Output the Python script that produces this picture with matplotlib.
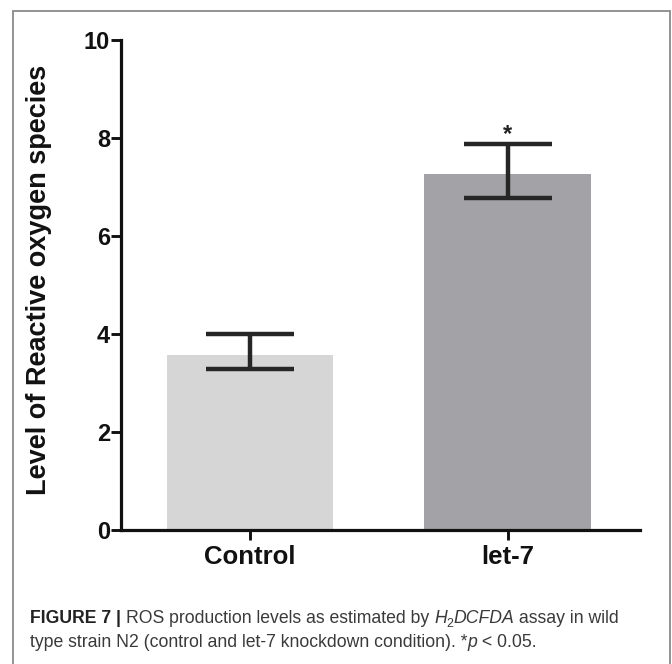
import numpy as np
import matplotlib
matplotlib.use("Agg")
import matplotlib.pyplot as plt
from matplotlib.patches import Rectangle

# --- dados ---
groups = ["Control", "let-7"]
ros_level = [3.58, 7.27]
err_low = [3.29, 6.77]
err_high = [4.0, 7.88]
bar_colors = ["#d6d6d6", "#a3a2a6"]
y_ticks = [0, 2, 4, 6, 8, 10]

W, H = 672, 664
fig = plt.figure(figsize=(W / 100, H / 100), dpi=100)
plt.rcParams["font.family"] = ["Liberation Sans", "DejaVu Sans"]

# moldura da figura
fig.patches.append(Rectangle((13 / W, -0.02), (670 - 13) / W, 1 - 11 / H + 0.02,
                             transform=fig.transFigure, fill=False,
                             edgecolor="#8a8a8a", linewidth=1.3))

ax = fig.add_axes([121 / W, 1 - 530 / H, (640 - 121) / W, (530 - 40) / H])
x = np.arange(len(groups))
ax.bar(x, ros_level, width=0.647, color=bar_colors, edgecolor="none", zorder=1)

yerr = np.array([[v - lo for v, lo in zip(ros_level, err_low)],
                 [hi - v for v, hi in zip(ros_level, err_high)]])
ax.errorbar(x, ros_level, yerr=yerr, fmt="none", ecolor="#262626",
            elinewidth=3.2, capsize=32, capthick=3.2, zorder=3)
for line in ax.lines:
    line.set_solid_capstyle("round")

# asterisco de significância
ax.text(x[1], err_high[1] - 0.05, "*", ha="center", va="bottom",
        fontsize=17, fontweight="bold", color="#222222")

ax.set_xlim(-0.5, 1.512)
ax.set_ylim(0, 10)
ax.set_yticks(y_ticks)
ax.set_xticks(x)
ax.set_xticklabels(groups)
for s in ["top", "right"]:
    ax.spines[s].set_visible(False)
for s in ["left", "bottom"]:
    ax.spines[s].set_linewidth(2.3)
    ax.spines[s].set_color("#111111")
ax.tick_params(axis="both", length=7, width=2.1, color="#111111")
ax.tick_params(axis="y", pad=1, labelsize=17)
ax.tick_params(axis="x", pad=4, labelsize=18.5)
for lbl in ax.get_xticklabels() + ax.get_yticklabels():
    lbl.set_fontweight("bold")
    lbl.set_color("#111111")

ax.set_ylabel("Level of Reactive oxygen species", fontsize=19.5,
              fontweight="bold", color="#111111")
ax.yaxis.set_label_coords(-0.133, 0.51)

# --- legenda da figura (texto em partes) ---
fig.canvas.draw()
renderer = fig.canvas.get_renderer()


def draw_runs(x0, y0, runs, size):
    xp = x0
    for txt, kw in runs:
        props = dict(fontsize=size, color="#3a3a3a", va="baseline", ha="left")
        props.update(kw)
        dy = 0
        if props.pop("sub", False):
            props["fontsize"] = size * 0.7
            dy = -4
        t = fig.text(xp / W, 1 - (y0 - dy) / H, txt, **props)
        bb = t.get_window_extent(renderer)
        xp += bb.width
    return xp


cap_size = 12.7
bold = {"fontweight": "bold", "color": "#222222"}
ital = {"fontstyle": "italic"}
line1 = [("FIGURE 7 | ", bold), ("ROS production levels as estimated by ", {}),
         ("H", ital), ("2", {"sub": True}), ("DCFDA", ital),
         (" assay in wild", {})]
line2 = [("type strain N2 (control and let-7 knockdown condition). *", {}),
         ("p", ital), (" < 0.05.", {})]
draw_runs(30, 623, line1, cap_size)
draw_runs(30, 647, line2, cap_size)

fig.savefig("out.png", dpi=100)
